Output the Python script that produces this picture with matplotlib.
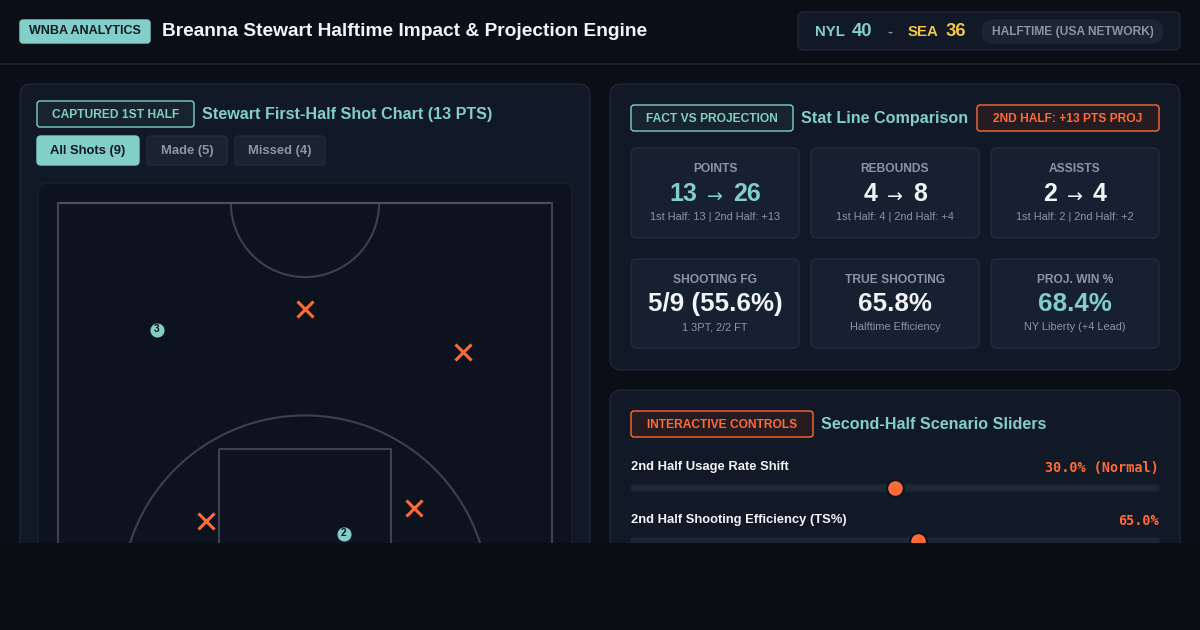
import matplotlib.pyplot as plt
from matplotlib.patches import FancyBboxPatch, Rectangle, Arc, Circle

# ---- data ----
home_team, away_team = "NYL", "SEA"
home_score, away_score = 40, 36
broadcast = "HALFTIME (USA NETWORK)"

shot_x = [25.0, 10.0, 41.0, 15.0, 36.0, 28.9, 22.0, 27.5, 25.0]   # feet across court
shot_y = [10.7, 12.9, 15.1, 32.2, 30.9, 33.5, 40.0, 41.5, 43.0]   # feet from half-court line
shot_made = [False, True, False, False, False, True, True, True, True]
shot_pts = [0, 3, 0, 0, 0, 2, 2, 2, 2]

filter_labels = ["All Shots (9)", "Made (5)", "Missed (4)"]

card_titles = ["POINTS", "REBOUNDS", "ASSISTS"]
first_half = [13, 4, 2]
second_half_proj = [13, 4, 2]

extra_titles = ["SHOOTING FG", "TRUE SHOOTING", "PROJ. WIN %"]
extra_values = ["5/9 (55.6%)", "65.8%", "68.4%"]
extra_subs = ["1 3PT, 2/2 FT", "Halftime Efficiency", "NY Liberty (+4 Lead)"]

slider_labels = ["2nd Half Usage Rate Shift", "2nd Half Shooting Efficiency (TS%)"]
slider_values = [30.0, 65.0]
slider_notes = [" (Normal)", ""]
slider_ranges = [(15, 45), (35, 90)]

# ---- colours ----
BG = "#0a0e16"
PANEL = "#111826"
PANEL_EDGE = "#1e2838"
CARD = "#172030"
CARD_EDGE = "#232d3d"
TEAL = "#81cfc8"
ORANGE = "#ff6b35"
YELLOW = "#f2c64a"
GRAY = "#8b95a6"
WHITE = "#f1f4f8"
LINE = "#3b424e"

plt.rcParams['font.family'] = ['Liberation Sans', 'DejaVu Sans']

fig = plt.figure(figsize=(12, 6.3), dpi=100)
fig.patch.set_facecolor(BG)
ax = fig.add_axes([0, 0, 1, 1])
ax.set_xlim(0, 1200)
ax.set_ylim(630, 0)
ax.axis('off')


def px(v):
    return v * 0.72


def rbox(x, y, w, h, fc, ec=None, r=6, lw=1.0, z=1):
    p = FancyBboxPatch((x, y), w, h, boxstyle=f"round,pad=0,rounding_size={r}",
                       fc=fc, ec=ec if ec else fc, lw=lw, zorder=z)
    ax.add_patch(p)


def badge(x, y, w, h, text, color, fill):
    rbox(x, y, w, h, fill, color, r=3, lw=1.0, z=3)
    ax.text(x + w / 2, y + h / 2 + 0.5, text, color=color, fontsize=px(12),
            fontweight='bold', ha='center', va='center', zorder=4)


# ---- header ----
rbox(20, 20, 130, 23, TEAL, r=3, z=2)
ax.text(85, 31.5, "WNBA ANALYTICS", color="#0e1a22", fontsize=px(12.5), fontweight='bold',
        ha='center', va='center', zorder=3)
ax.text(162, 32, "Breanna Stewart Halftime Impact & Projection Engine", color=WHITE,
        fontsize=px(19.2), fontweight='bold', ha='left', va='center')

rbox(798, 12, 382, 38, PANEL, PANEL_EDGE, r=6, z=2)
ax.text(815, 31.5, home_team, color=TEAL, fontsize=px(15), fontweight='bold', va='center', zorder=3)
ax.text(852, 31, str(home_score), color=TEAL, fontsize=px(18.5), fontweight='bold', va='center', zorder=3)
ax.text(890, 32, "-", color=GRAY, fontsize=px(15), fontweight='bold', ha='center', va='center', zorder=3)
ax.text(908, 31.5, away_team, color=YELLOW, fontsize=px(15), fontweight='bold', va='center', zorder=3)
ax.text(946, 31, str(away_score), color=YELLOW, fontsize=px(18.5), fontweight='bold', va='center', zorder=3)
rbox(982, 20, 181, 23, "#1d2533", r=11.5, z=3)
ax.text(1072.5, 31.5, broadcast, color=GRAY, fontsize=px(12), fontweight='bold',
        ha='center', va='center', zorder=4)
ax.plot([0, 1200], [63.5, 63.5], color="#1c2432", lw=1.2, zorder=2)

# ---- left panel: shot chart ----
rbox(20, 84, 570, 600, PANEL, PANEL_EDGE, r=12, z=1)
badge(37, 101, 157, 26, "CAPTURED 1ST HALF", TEAL, "#17232d")
ax.text(202, 114.5, "Stewart First-Half Shot Chart (13 PTS)", color=TEAL, fontsize=px(16.1),
        fontweight='bold', va='center', zorder=3)

btn_x = [37, 147, 235]
btn_w = [102, 80, 90]
for i, lab in enumerate(filter_labels):
    active = i == 0
    rbox(btn_x[i], 136, btn_w[i], 29, TEAL if active else "#1b2332",
         TEAL if active else "#232c3b", r=4, z=2)
    ax.text(btn_x[i] + btn_w[i] / 2, 151, lab, color="#0e1620" if active else GRAY,
            fontsize=px(13), fontweight='bold', ha='center', va='center', zorder=3)

rbox(38, 183, 534, 500, "#0d131e", "#18202d", r=8, z=2)

cax = fig.add_axes([38 / 1200, 1 - 543 / 630, 534 / 1200, 360 / 630])
cax.set_xlim(-2.02, 52.02)
cax.set_ylim(34.41, -2.02)
cax.axis('off')
cax.patch.set_alpha(0)
court_kw = dict(color=LINE, lw=1.5)
cax.plot([0, 50], [0, 0], color="#4a505a", lw=1.6)
cax.plot([0, 0], [0, 47], **court_kw)
cax.plot([50, 50], [0, 47], **court_kw)
cax.add_patch(Arc((25, 0), 15.0, 15.0, theta1=0, theta2=180, ec=LINE, lw=1.5))
cax.add_patch(Rectangle((16.25, 24.9), 17.5, 30, fill=False, ec=LINE, lw=1.5))
cax.add_patch(Circle((25, 40.1), 18.6, fill=False, ec=LINE, lw=1.5))

for sx, sy, made, pts in zip(shot_x, shot_y, shot_made, shot_pts):
    if made:
        cax.plot(sx, sy, 'o', ms=10.8, color=TEAL, mec="#0d131e", mew=0.6, zorder=5)
        cax.text(sx, sy - 0.1, str(pts), color="#0d131e", fontsize=7.3, fontweight='bold',
                 ha='center', va='center', zorder=6)
    else:
        cax.plot(sx, sy, 'x', ms=11, color=ORANGE, mew=2.2, zorder=5)

# ---- right top panel: stat cards ----
rbox(610, 84, 570, 286, PANEL, PANEL_EDGE, r=12, z=1)
badge(631, 105, 162, 26, "FACT VS PROJECTION", TEAL, "#17232d")
ax.text(801, 118.5, "Stat Line Comparison", color=TEAL, fontsize=px(16.1), fontweight='bold',
        va='center', zorder=3)
badge(977, 105, 182, 26, "2ND HALF: +13 PTS PROJ", ORANGE, "#251b20")

card_x = [631, 811, 991]
for i in range(3):
    x0 = card_x[i]
    cx = x0 + 84
    rbox(x0, 148, 168, 90, CARD, CARD_EDGE, r=6, z=2)
    ax.text(cx, 169, card_titles[i], color=GRAY, fontsize=px(12), fontweight='bold',
            ha='center', va='center', zorder=3)
    col = TEAL if i == 0 else WHITE
    total = first_half[i] + second_half_proj[i]
    ax.text(cx - 18, 194, str(first_half[i]), color=col, fontsize=px(25), fontweight='bold',
            ha='right', va='center', zorder=3)
    ax.text(cx, 197, "→", color=col, fontsize=px(19), ha='center', va='center', zorder=3,
            family=['DejaVu Sans'])
    ax.text(cx + 18, 194, str(total), color=col, fontsize=px(25), fontweight='bold',
            ha='left', va='center', zorder=3)
    ax.text(cx, 217, f"1st Half: {first_half[i]} | 2nd Half: +{second_half_proj[i]}",
            color=GRAY, fontsize=px(11), ha='center', va='center', zorder=3)

    rbox(x0, 259, 168, 89, CARD, CARD_EDGE, r=6, z=2)
    ax.text(cx, 280, extra_titles[i], color=GRAY, fontsize=px(12), fontweight='bold',
            ha='center', va='center', zorder=3)
    ax.text(cx, 304, extra_values[i], color=TEAL if i == 2 else WHITE, fontsize=px(26),
            fontweight='bold', ha='center', va='center', zorder=3)
    ax.text(cx, 327, extra_subs[i], color=GRAY, fontsize=px(11), ha='center', va='center', zorder=3)

# ---- right bottom panel: sliders ----
rbox(610, 390, 570, 300, PANEL, PANEL_EDGE, r=12, z=1)
badge(631, 411, 182, 26, "INTERACTIVE CONTROLS", ORANGE, "#251b20")
ax.text(821, 424.5, "Second-Half Scenario Sliders", color=TEAL, fontsize=px(16.1),
        fontweight='bold', va='center', zorder=3)

label_y = [467, 520]
for i, lab in enumerate(slider_labels):
    ly = label_y[i]
    ax.text(631, ly, lab, color=WHITE, fontsize=px(13), fontweight='bold', va='center', zorder=3)
    ax.text(1159, ly + 1, f"{slider_values[i]:.1f}%{slider_notes[i]}", color=ORANGE,
            fontsize=px(13.5), fontweight='bold', ha='right', va='center', zorder=3,
            family=['DejaVu Sans Mono'])
    ty = ly + 21
    rbox(631, ty - 3, 528, 6, "#1d2737", r=3, z=2)
    sax = fig.add_axes([639 / 1200, 1 - (ty + 10) / 630, 512 / 1200, 20 / 630])
    sax.set_xlim(*slider_ranges[i])
    sax.set_ylim(-1, 1)
    sax.axis('off')
    sax.patch.set_alpha(0)
    sax.plot(slider_values[i], 0, 'o', ms=12, color=ORANGE, mec="#0d131e", mew=1.5,
             clip_on=False, zorder=5)

# screenshot cut-off
fig.patches.append(Rectangle((0, 0), 1, 87 / 630, transform=fig.transFigure,
                             fc="#0a0d14", ec="none", zorder=100))

fig.savefig("out.png", dpi=100, facecolor=BG)
